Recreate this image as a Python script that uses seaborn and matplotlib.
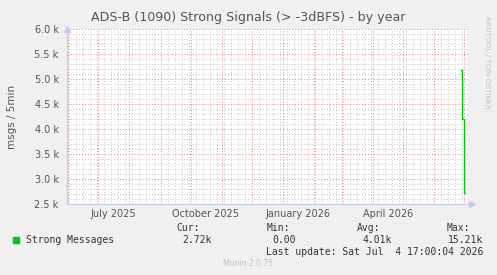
import matplotlib
matplotlib.use("Agg")
import matplotlib.pyplot as plt
import matplotlib.dates as mdates
import matplotlib.ticker as mticker
import seaborn as sns
import pandas as pd
import numpy as np

# ---- data ----
title = "ADS-B (1090) Strong Signals (> -3dBFS) - by year"
ylabel = "msgs / 5min"
dates = ["2026-06-28", "2026-06-30", "2026-07-02"]
values = [5180, 4200, 2720]
series_name = "Strong Messages"
stat_names = ["Cur:", "Min:", "Avg:", "Max:"]
stat_values = ["2.72k", "0.00", "4.01k", "15.21k"]
last_update = "Last update: Sat Jul  4 17:00:04 2026"
month_labels = ["July 2025", "October 2025", "January 2026", "April 2026"]
month_label_dates = ["2025-07-16", "2025-10-16", "2026-01-16", "2026-04-16"]
x_start = "2025-05-30 17:00"
x_end = "2026-07-04 17:00"
y_min, y_max = 2500, 6000

sns.set_theme(style="white")
plt.rcParams['font.family'] = ['DejaVu Sans']

BG = "#F0F0F0"
TXT = "#555555"
fig = plt.figure(figsize=(4.97, 2.75), dpi=100, facecolor=BG)
ax = fig.add_axes([67/497, 1-204/275, (468-67)/497, (204-29)/275])
ax.set_facecolor("white")

df = pd.DataFrame({"date": pd.to_datetime(dates), "value": values})
sns.lineplot(data=df, x="date", y="value", ax=ax, color="#00CC00", lw=1.0,
             drawstyle="steps-mid", legend=False)

ax.set_xlim(pd.Timestamp(x_start), pd.Timestamp(x_end))
ax.set_ylim(y_min, y_max)

# grid
ax.xaxis.set_major_locator(mdates.MonthLocator())
ax.xaxis.set_minor_locator(mdates.WeekdayLocator(byweekday=mdates.MO))
ax.yaxis.set_major_locator(mticker.MultipleLocator(500))
ax.yaxis.set_minor_locator(mticker.MultipleLocator(100))
ax.grid(which="minor", color="#C4C4C4", linestyle=(0, (1, 2)), lw=0.7)
ax.grid(which="major", color="#E08080", linestyle=(0, (1, 2)), lw=0.7)
ax.set_axisbelow(True)
ax.xaxis.set_major_formatter(mticker.NullFormatter())
ax.yaxis.set_major_formatter(mticker.FuncFormatter(lambda v, p: f"{v/1000:.1f} k"))
ax.tick_params(axis="y", which="major", labelsize=7, labelcolor=TXT, length=2,
               color="#E08080", pad=4)
ax.tick_params(axis="x", which="major", length=2, color="#E08080")
ax.tick_params(which="minor", length=0)

for s in ["top", "right"]:
    ax.spines[s].set_visible(False)
for s in ["left", "bottom"]:
    ax.spines[s].set_color("#C8C8F0")
    ax.spines[s].set_linewidth(0.8)
ax.plot([0], [1.0], marker="^", ms=4, color="#C8C8F0", transform=ax.transAxes, clip_on=False)
ax.plot([1.01], [0], marker=">", ms=4, color="#C8C8F0", transform=ax.transAxes, clip_on=False)
ax.plot([0, 1.01], [0, 0], color="#C8C8F0", lw=0.8, transform=ax.transAxes, clip_on=False)

for lab, d in zip(month_labels, month_label_dates):
    ax.text(pd.Timestamp(d), -0.03, lab, transform=ax.get_xaxis_transform(),
            ha="center", va="top", fontsize=7, color=TXT)

ax.set_xlabel("")
ax.set_ylabel("")
fig.text(12/497, 1-117/275, ylabel, rotation=90, ha="center", va="center",
         fontsize=7.5, color=TXT)
fig.text(248/497, 1-18/275, title, ha="center", va="center", fontsize=9.1, color=TXT)
fig.text(487/497, 1-16/275, "RRDTOOL / TOBI OETIKER", rotation=-90, ha="center",
         va="top", fontsize=5.2, color="#C0C0C0")

mono = "DejaVu Sans Mono"
fig.patches.append(plt.Rectangle((13/497, 1-243/275), 6/497, 6/275, transform=fig.transFigure,
                                 color="#00CC00", figure=fig))
fig.text(26/497, 1-240/275, series_name, family=mono, fontsize=7, color="#333333",
         ha="left", va="center")
name_right = [200, 290, 380, 470]
val_right = [212, 296, 392, 483]
for n, v, nr, vr in zip(stat_names, stat_values, name_right, val_right):
    fig.text(nr/497, 1-228/275, n, family=mono, fontsize=7, color="#333333", ha="right", va="center")
    fig.text(vr/497, 1-240/275, v, family=mono, fontsize=7, color="#333333", ha="right", va="center")
fig.text(483/497, 1-252/275, last_update, family=mono, fontsize=7, color="#333333",
         ha="right", va="center")
fig.text(248/497, 1-264/275, "Munin 2.0.75", fontsize=5.5, color="#C0C0C0", ha="center", va="center")

fig.savefig("out.png", dpi=100, facecolor=BG)
